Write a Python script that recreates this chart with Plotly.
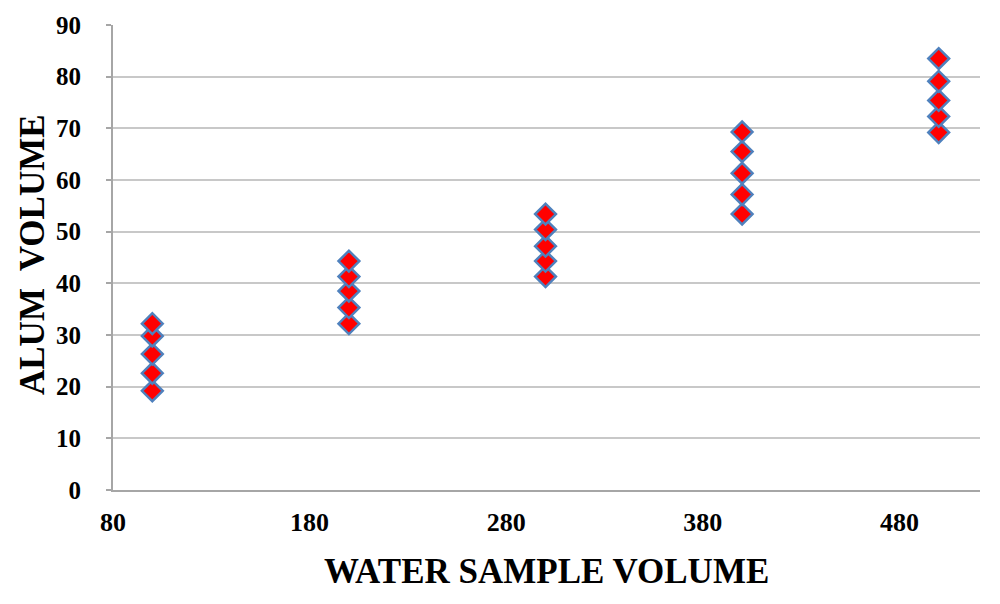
import plotly.graph_objects as go

water_volume = [100]*5 + [200]*5 + [300]*5 + [400]*5 + [500]*5
alum_volume = [19.2, 22.6, 26.3, 29.8, 32.2,
               32.2, 35.3, 38.5, 41.3, 44.3,
               41.3, 44.3, 47.2, 50.4, 53.4,
               53.4, 57.2, 61.3, 65.5, 69.3,
               69.2, 72.3, 75.4, 79.1, 83.5]
x_ticks = [80, 180, 280, 380, 480]
y_ticks = [0, 10, 20, 30, 40, 50, 60, 70, 80, 90]

font_family = "Liberation Serif"

fig = go.Figure()
fig.add_trace(go.Scatter(
    x=water_volume, y=alum_volume, mode="markers",
    marker=dict(symbol="diamond", size=16, color="#ff0000",
                line=dict(color="#4f81bd", width=2.5)),
    showlegend=False,
))

fig.update_layout(
    width=1000, height=604,
    margin=dict(l=113, r=20, t=21, b=114),
    paper_bgcolor="white", plot_bgcolor="white",
    font=dict(family=font_family, color="black"),
    xaxis=dict(range=[80, 521], tickvals=x_ticks, ticktext=[f"<b>{v}</b>" for v in x_ticks],
               showgrid=False, zeroline=False, showline=True, linecolor="#a6a6a6", linewidth=2,
               ticks="", tickfont=dict(size=26, family=font_family), ticklabelstandoff=8),
    yaxis=dict(range=[0, 90], tickvals=y_ticks, ticktext=[f"<b>{v}</b>" for v in y_ticks],
               showgrid=True, gridcolor="#c8c8c8", gridwidth=2, zeroline=False,
               showline=True, linecolor="#a6a6a6", linewidth=2,
               ticks="outside", ticklen=5, tickcolor="#a6a6a6", tickwidth=2,
               tickfont=dict(size=25, family=font_family), ticklabelstandoff=20),
    annotations=[
        dict(text="<b>WATER SAMPLE VOLUME</b>", xref="paper", yref="paper",
             x=(546-113)/867, y=-(572-490)/469, xanchor="center", yanchor="middle",
             showarrow=False, font=dict(size=35, family=font_family)),
        dict(text="<b>ALUM  VOLUME</b>", xref="paper", yref="paper",
             x=-(113-32)/867, y=(490-253)/469, xanchor="center", yanchor="middle",
             textangle=-90, showarrow=False, font=dict(size=35, family=font_family)),
    ],
)

fig.write_html("out.html")
